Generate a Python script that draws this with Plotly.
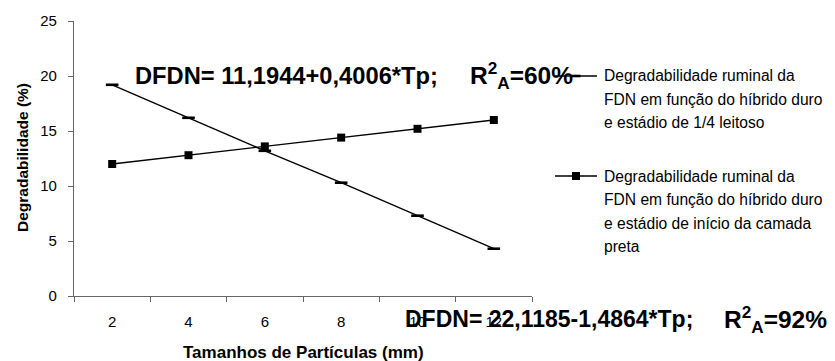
import plotly.graph_objects as go

# Particle sizes (mm) used as categories on the x axis
sizes = ["2", "4", "6", "8", "10", "12"]

# Ruminal NDF degradability (%) for each hybrid / maturity stage
dfdn_quarter_milk = [19.2, 16.2, 13.2, 10.3, 7.3, 4.3]
dfdn_black_layer = [12.0, 12.8, 13.6, 14.4, 15.2, 16.0]

y_ticks = [0, 5, 10, 15, 20, 25]

legend_quarter_milk = [
    "Degradabilidade ruminal da",
    "FDN em função do híbrido duro",
    "e estádio de 1/4 leitoso",
]
legend_black_layer = [
    "Degradabilidade ruminal da",
    "FDN em função do híbrido duro",
    "e estádio de início da camada",
    "preta",
]

W, H = 835, 361
ML, MR, MT, MB = 74, 303, 21, 65
PW, PH = W - ML - MR, H - MT - MB


def px(x):
    return (x - ML) / PW


def py(y):
    return (H - MB - y) / PH


FONT = "Liberation Sans, Arial, sans-serif"

fig = go.Figure()
fig.add_trace(go.Scatter(
    x=sizes, y=dfdn_quarter_milk, mode="lines+markers",
    line=dict(color="black", width=1.4),
    marker=dict(symbol="line-ew", size=9, line=dict(color="black", width=2.6)),
    showlegend=False,
))
fig.add_trace(go.Scatter(
    x=sizes, y=dfdn_black_layer, mode="lines+markers",
    line=dict(color="black", width=1.4),
    marker=dict(symbol="square", size=8, color="black"),
    showlegend=False,
))

annotations = []
shapes = []

# Regression equations
r2_font = dict(family=FONT, size=24.5, color="black")
annotations += [
    dict(text="<b>DFDN= 11,1944+0,4006*Tp;</b>", x=px(133), y=py(76),
         xanchor="left", yanchor="middle",
         font=dict(family=FONT, size=23.7, color="black")),
    dict(text="<b>R<sup>2</sup><sub>A</sub>=60%</b>", x=px(468), y=py(76),
         xanchor="left", yanchor="middle", font=r2_font),
    dict(text="<b>DFDN= 22,1185-1,4864*Tp;</b>", x=px(403), y=py(319),
         xanchor="left", yanchor="middle",
         font=dict(family=FONT, size=23, color="black")),
    dict(text="<b>R<sup>2</sup><sub>A</sub>=92%</b>", x=px(722), y=py(319),
         xanchor="left", yanchor="middle", font=r2_font),
]

# Legend drawn by hand: key line + marker, then wrapped text
leg_font = dict(family=FONT, size=15.6, color="black")
key_x0, key_x1, text_x = 555, 597, 602
for y0, lines, symbol in [(76, legend_quarter_milk, "dash"),
                          (176, legend_black_layer, "square")]:
    shapes.append(dict(type="line", xref="paper", yref="paper",
                       x0=px(key_x0), x1=px(key_x1), y0=py(y0), y1=py(y0),
                       line=dict(color="black", width=1.4)))
    cx = (key_x0 + key_x1) / 2
    if symbol == "square":
        shapes.append(dict(type="rect", xref="paper", yref="paper",
                           x0=px(cx - 4), x1=px(cx + 4), y0=py(y0 + 4), y1=py(y0 - 4),
                           fillcolor="black", line=dict(width=0)))
    else:
        shapes.append(dict(type="line", xref="paper", yref="paper",
                           x0=px(cx - 4.5), x1=px(cx + 4.5), y0=py(y0), y1=py(y0),
                           line=dict(color="black", width=2.6)))
    for i, line in enumerate(lines):
        annotations.append(dict(text=line, x=px(text_x), y=py(y0 + i * 23.5),
                                xanchor="left", yanchor="middle", font=leg_font))

# Axis titles
annotations += [
    dict(text="<b>Tamanhos de Partículas (mm)</b>", x=px(303), y=py(352),
         xanchor="center", yanchor="middle",
         font=dict(family=FONT, size=17, color="black")),
    dict(text="<b>Degradabilidade (%)</b>", x=px(22), y=py(158), textangle=-90,
         xanchor="center", yanchor="middle",
         font=dict(family=FONT, size=15.5, color="black")),
]
for a in annotations:
    a.update(xref="paper", yref="paper", showarrow=False)

fig.update_layout(
    width=W, height=H,
    margin=dict(l=ML, r=MR, t=MT, b=MB, pad=0),
    paper_bgcolor="white", plot_bgcolor="white",
    font=dict(family=FONT, size=15, color="black"),
    annotations=annotations, shapes=shapes,
    showlegend=False,
)
fig.update_xaxes(
    type="category", range=[-0.5, 5.5], tickson="boundaries",
    showline=True, linecolor="#666", linewidth=1.2,
    ticks="outside", ticklen=5, tickcolor="#666", tickwidth=1.2,
    showgrid=False, zeroline=False, ticklabelstandoff=12,
    tickfont=dict(family=FONT, size=15, color="black"),
)
fig.update_yaxes(
    range=[0, 25], tickvals=y_ticks,
    showline=True, linecolor="#666", linewidth=1.2,
    ticks="outside", ticklen=5, tickcolor="#666", tickwidth=1.2,
    showgrid=False, zeroline=False, ticklabelstandoff=8,
    tickfont=dict(family=FONT, size=15, color="black"),
)

fig.write_html("out.html")
